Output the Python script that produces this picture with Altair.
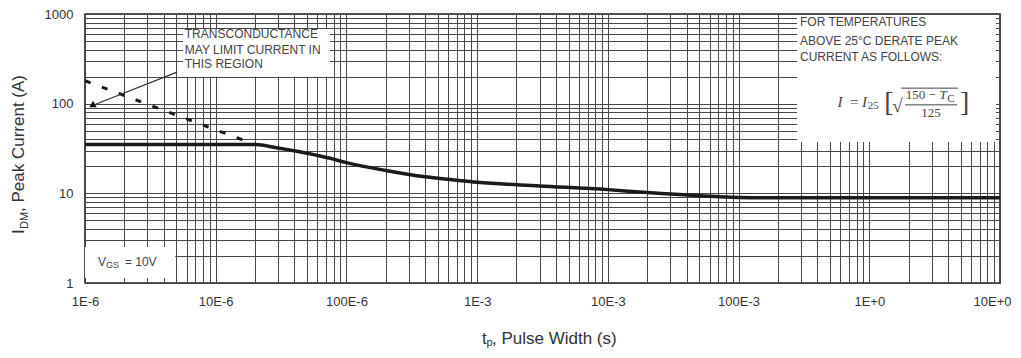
import altair as alt
import pandas as pd

# ---------------- data ----------------
solid_t = [1e-6, 2e-5, 3e-5, 5e-5, 7.5e-5, 1e-4, 2e-4, 4e-4, 7e-4, 1e-3,
           3e-3, 1e-2, 2e-2, 5e-2, 1e-1, 2e-1, 1e1]
solid_i = [35, 35, 32, 28, 24.6, 22, 18, 15.3, 14, 13.3,
           12.1, 11, 10.2, 9.4, 9.0, 8.9, 8.9]

dash_t = [1e-6, 2e-5]
dash_i = [180, 35]

x_decades = [1e-6, 1e-5, 1e-4, 1e-3, 1e-2, 1e-1, 1e0, 1e1]
x_labels = ["1E-6", "10E-6", "100E-6", "1E-3", "10E-3", "100E-3", "1E+0", "10E+0"]
y_decades = [1, 10, 100, 1000]
y_labels = ["1", "10", "100", "1000"]

left_note = ["TRANSCONDUCTANCE", "MAY LIMIT CURRENT IN", "THIS REGION"]
left_note_t = [5.8e-6, 5.8e-6, 5.8e-6]
left_note_i = [600, 400, 278]

right_note = ["FOR TEMPERATURES", "ABOVE 25°C DERATE PEAK", "CURRENT AS FOLLOWS:"]
right_note_t = [0.295, 0.295, 0.295]
right_note_i = [805, 500, 331]

FONT = "Liberation Sans"
SERIF = "Liberation Serif"
GRID = "#474747"
TXT = "#333333"


def grid_values(decades):
    vals = []
    for d in decades[:-1]:
        vals += [d * k for k in range(1, 10)]
    vals.append(decades[-1])
    return vals


def label_expr(decades, labels):
    expr = "''"
    for d, l in zip(reversed(decades), reversed(labels)):
        expr = f"(abs(datum.value / {d!r} - 1) < 1e-6) ? '{l}' : ({expr})"
    return expr


xs = alt.Scale(type="log", domain=[x_decades[0], x_decades[-1]], nice=False)
ys = alt.Scale(type="log", domain=[y_decades[0], y_decades[-1]], nice=False)

x_axis = alt.Axis(values=grid_values(x_decades), labelExpr=label_expr(x_decades, x_labels),
                  grid=True, gridColor=GRID, gridWidth=1, gridOpacity=1,
                  ticks=False, domain=False, labelOverlap=False, labelFlush=False,
                  labelPadding=12, labelFont=FONT, labelFontSize=13, labelColor=TXT,
                  labelOffset={"condition": {"test": f"datum.value >= {x_decades[-1] * 0.99}", "value": -8},
                               "value": 0},
                  title=None)
y_axis = alt.Axis(values=grid_values(y_decades), labelExpr=label_expr(y_decades, y_labels),
                  grid=True, gridColor=GRID, gridWidth=1, gridOpacity=1,
                  ticks=False, domain=False, labelOverlap=False, labelFlush=False,
                  labelPadding=12, labelFont=FONT, labelFontSize=13, labelColor=TXT,
                  labelBaseline="middle", title=None)

solid_df = pd.DataFrame({"t": solid_t, "i": solid_i})
dash_df = pd.DataFrame({"t": dash_t, "i": dash_i})


def X(field="t"):
    return alt.X(f"{field}:Q", scale=xs, axis=x_axis)


def Y(field="i"):
    return alt.Y(f"{field}:Q", scale=ys, axis=y_axis)


# white boxes behind annotations
boxes = pd.DataFrame({
    "t": [5.62e-6, 0.28, 1.0e-6],
    "t2": [7.5e-5, 9.3, 4.9e-6],
    "i": [680, 975, 2.52],
    "i2": [200, 37.3, 1.137],
})
box_layer = alt.Chart(boxes).mark_rect(fill="white").encode(
    x=X(), x2="t2:Q", y=Y(), y2="i2:Q")

solid_layer = alt.Chart(solid_df).mark_line(color="#1a1a1a", strokeWidth=3.5,
                                            interpolate="monotone").encode(x=X(), y=Y())

dash_layer = alt.Chart(dash_df).mark_line(color="#1a1a1a", strokeWidth=3, strokeDash=[6, 12]).encode(
    x=X(), y=Y())

# arrow
arrow_df = pd.DataFrame({"t": [1.151e-6, 5.06e-6], "i": [96, 225]})
arrow_line = alt.Chart(arrow_df).mark_line(color="#333", strokeWidth=1.2).encode(x=X(), y=Y())
arrow_head = alt.Chart(pd.DataFrame({"t": [1.151e-6], "i": [99]})).mark_point(
    shape="triangle-up", filled=True, color="#111", size=55, opacity=1).encode(x=X(), y=Y())

left_txt = alt.Chart(pd.DataFrame({"t": left_note_t, "i": left_note_i, "s": left_note})).mark_text(
    align="left", baseline="middle", font=FONT, fontSize=12, color="#444").encode(
    x=X(), y=Y(), text="s:N")
right_txt = alt.Chart(pd.DataFrame({"t": right_note_t, "i": right_note_i, "s": right_note})).mark_text(
    align="left", baseline="middle", font=FONT, fontSize=12, color="#444").encode(
    x=X(), y=Y(), text="s:N")

# formula pieces  I = I25 [ sqrt((150 - Tc)/125) ]
f_main = pd.DataFrame({
    "t": [0.57, 0.70, 0.881],
    "i": [104.2, 104.2, 104.2],
    "s": ["I", "=", "I"],
})
formula_main = alt.Chart(f_main).mark_text(align="left", baseline="middle", font=SERIF,
                                           fontSize=15, fontStyle="italic", color="#444").encode(
    x=X(), y=Y(), text="s:N")
f_sub = pd.DataFrame({"t": [0.975, 3.95], "i": [93, 113], "s": ["25", "C"]})
formula_sub = alt.Chart(f_sub).mark_text(align="left", baseline="middle", font=SERIF,
                                         fontSize=11, color="#444").encode(x=X(), y=Y(), text="s:N")
f_br = pd.DataFrame({"t": [1.30, 4.95], "i": [101, 101], "s": ["[", "]"]})
formula_br = alt.Chart(f_br).mark_text(align="left", baseline="middle", font=SERIF,
                                       fontSize=28, color="#444").encode(x=X(), y=Y(), text="s:N")
f_sqrt = pd.DataFrame({"t": [1.50], "i": [94], "s": ["√"]})
formula_sqrt = alt.Chart(f_sqrt).mark_text(align="left", baseline="middle", font=SERIF,
                                           fontSize=19, color="#444").encode(x=X(), y=Y(), text="s:N")
f_num = pd.DataFrame({"t": [1.90], "i": [124], "s": ["150 −"]})
formula_num = alt.Chart(f_num).mark_text(align="left", baseline="middle", font=SERIF,
                                         fontSize=13, color="#444").encode(x=X(), y=Y(), text="s:N")
f_T = pd.DataFrame({"t": [3.45], "i": [124], "s": ["T"]})
formula_T = alt.Chart(f_T).mark_text(align="left", baseline="middle", font=SERIF, fontStyle="italic",
                                     fontSize=13, color="#444").encode(x=X(), y=Y(), text="s:N")
f_den = pd.DataFrame({"t": [2.97], "i": [78.6], "s": ["125"]})
formula_den = alt.Chart(f_den).mark_text(align="center", baseline="middle", font=SERIF,
                                         fontSize=13, color="#444").encode(x=X(), y=Y(), text="s:N")
f_rules = pd.DataFrame({"t": [1.75, 1.88], "t2": [4.78, 4.7], "i": [149, 97]})
formula_rules = alt.Chart(f_rules).mark_rule(color="#444", strokeWidth=1).encode(
    x=X(), x2="t2:Q", y=Y())

# VGS = 10V
vgs_main = alt.Chart(pd.DataFrame({"t": [1.257e-6, 2.02e-6], "i": [1.714, 1.714], "s": ["V", "= 10V"]})).mark_text(
    align="left", baseline="middle", font=FONT, fontSize=12, color="#444").encode(x=X(), y=Y(), text="s:N")
vgs_sub = alt.Chart(pd.DataFrame({"t": [1.45e-6], "i": [1.58], "s": ["GS"]})).mark_text(
    align="left", baseline="middle", font=FONT, fontSize=9, color="#444").encode(x=X(), y=Y(), text="s:N")

# axis titles with subscripts (pixel positions relative to plot area)
one = pd.DataFrame({"a": [0]})


def title_piece(txt, px, py, size, angle=0, baseline="middle"):
    kw = dict(align="left", baseline=baseline, font=FONT, fontSize=size, color=TXT)
    if angle:
        kw["angle"] = angle
    return alt.Chart(one).mark_text(**kw).encode(
        x=alt.value(px), y=alt.value(py), text=alt.value(txt))


titles = [
    title_piece("t", 397, 325, 17),
    title_piece("p", 401.5, 328.5, 11),
    title_piece(", Pulse Width (s)", 407, 325, 17),
    title_piece("I", -61, 220, 17, 270, "alphabetic"),
    title_piece("DM", -57.5, 215, 11, 270, "alphabetic"),
    title_piece(", Peak Current (A)", -61, 198, 17, 270, "alphabetic"),
]

chart = alt.layer(
    box_layer,
    dash_layer,
    solid_layer,
    arrow_line, arrow_head,
    left_txt, right_txt,
    formula_main, formula_sub, formula_br, formula_sqrt, formula_num, formula_T,
    formula_den, formula_rules,
    vgs_main, vgs_sub,
    *titles,
).properties(
    width=915, height=269,
    autosize=alt.AutoSizeParams(type="none"),
    padding={"left": 77, "top": 6, "right": 13, "bottom": 67},
    background="white",
).configure_view(stroke="#222", strokeWidth=1.6)

chart.save("out.html", embed_options={"renderer": "svg", "actions": False})
